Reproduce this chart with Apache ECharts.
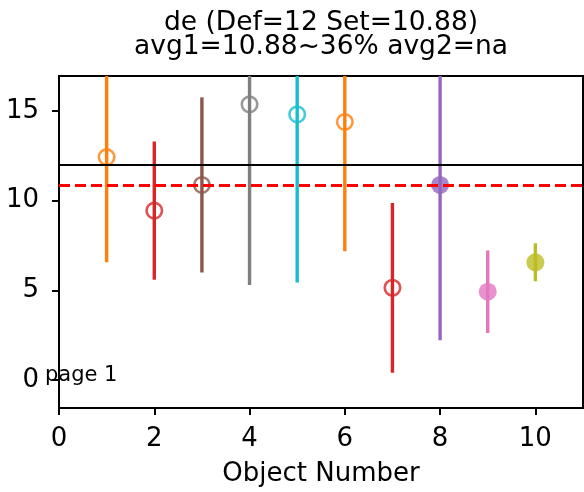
<!DOCTYPE html>
<html>
<head>
<meta charset="utf-8">
<script src="https://cdn.jsdelivr.net/npm/echarts@6/dist/echarts.min.js"></script>
<style>
html,body{margin:0;padding:0;background:#fff;}
#chart{width:584px;height:492px;}
</style>
</head>
<body>
<div id="chart"></div>
<script>
// ---- data ----
const objectNumbers = [1, 2, 3, 4, 5, 6, 7, 8, 9, 10];
const values = [12.43, 9.45, 10.88, 15.37, 14.81, 14.39, 5.15, 10.88, 4.93, 6.57];
const errors = [5.86, 3.85, 4.88, 10.07, 9.37, 7.2, 4.73, 8.65, 2.3, 1.06];
const filled = [false, false, false, false, false, false, false, true, true, true];
const defValue = 12;
const setValue = 10.88;
const xTicks = [0, 2, 4, 6, 8, 10];
const yTicks = [0, 5, 10, 15];
const titleLines = ['de (Def=12 Set=10.88)', 'avg1=10.88~36% avg2=na'];
const xLabel = 'Object Number';
const pageText = 'page 1';

// ---- styles ----
const colors = ['#ff7f0e', '#d62728', '#8c564b', '#7f7f7f', '#17becf', '#ff7f0e', '#d62728', '#9467bd', '#e377c2', '#bcbd22'];
const FONT = 'DejaVu Sans';

const errData = objectNumbers.map((x, i) => [x, values[i] - errors[i], values[i] + errors[i], i]);
const ptData = objectNumbers.map((x, i) => ({
  value: [x, values[i]],
  symbolSize: filled[i] ? 18 : 15.5,
  itemStyle: filled[i]
    ? { color: colors[i], borderWidth: 0 }
    : { color: 'rgba(0,0,0,0)', borderColor: colors[i], borderWidth: 2.6 }
}));

const chart = echarts.init(document.getElementById('chart'), null, { renderer: 'canvas' });
chart.setOption({
  animation: false,
  backgroundColor: '#fff',
  grid: { left: 59, right: 1, top: 76, bottom: 82, show: true, borderColor: '#000', borderWidth: 2, backgroundColor: 'rgba(0,0,0,0)' },
  xAxis: {
    type: 'value', min: 0, max: 11, interval: 2,
    splitLine: { show: false },
    axisLine: { onZero: false, lineStyle: { color: '#000', width: 2 } },
    axisTick: { show: true, length: 7, lineStyle: { color: '#000', width: 2 }, customValues: xTicks },
    axisLabel: { color: '#000', fontSize: 26, fontFamily: FONT, margin: 18, customValues: xTicks },
    name: xLabel, nameLocation: 'middle', nameGap: 53,
    nameTextStyle: { color: '#000', fontSize: 26, fontFamily: FONT }
  },
  yAxis: {
    type: 'value', min: -1.55, max: 16.95,
    splitLine: { show: false },
    axisLine: { onZero: false, lineStyle: { color: '#000', width: 2 } },
    axisTick: { show: true, length: 7, lineStyle: { color: '#000', width: 2 }, customValues: yTicks },
    axisLabel: { color: '#000', fontSize: 26, fontFamily: FONT, margin: 20, customValues: yTicks }
  },
  graphic: [
    { type: 'text', x: 321, y: 23, style: { text: titleLines[0], font: '26.5px "' + FONT + '"', fill: '#000', align: 'center', verticalAlign: 'middle' } },
    { type: 'text', x: 321, y: 47, style: { text: titleLines[1], font: '26.5px "' + FONT + '"', fill: '#000', align: 'center', verticalAlign: 'middle' } },
    { type: 'text', x: 45, y: 376, z: 100, style: { text: pageText, font: '21px "' + FONT + '"', fill: '#000', align: 'left', verticalAlign: 'middle' } }
  ],
  series: [
    {
      type: 'line', data: [], z: 1, silent: true,
      markLine: {
        symbol: ['none', 'none'], silent: true, animation: false,
        label: { show: false },
        data: [
          { yAxis: defValue, lineStyle: { color: '#000', width: 2.2, type: 'solid' } },
          { yAxis: setValue, lineStyle: { color: '#ff0000', width: 3.2, type: [11, 5] } }
        ]
      }
    },
    {
      type: 'custom', z: 2, clip: true, silent: true,
      data: errData,
      renderItem: function (params, api) {
        const x = api.value(0);
        const p1 = api.coord([x, api.value(1)]);
        const p2 = api.coord([x, api.value(2)]);
        const idx = api.value(3);
        return {
          type: 'line',
          shape: { x1: p1[0], y1: p1[1], x2: p2[0], y2: p2[1] },
          style: { stroke: colors[idx], lineWidth: 3.4 }
        };
      }
    },
    {
      type: 'scatter', z: 3, symbol: 'circle', data: ptData, clip: true, silent: true
    }
  ]
});
</script>
</body>
</html>
